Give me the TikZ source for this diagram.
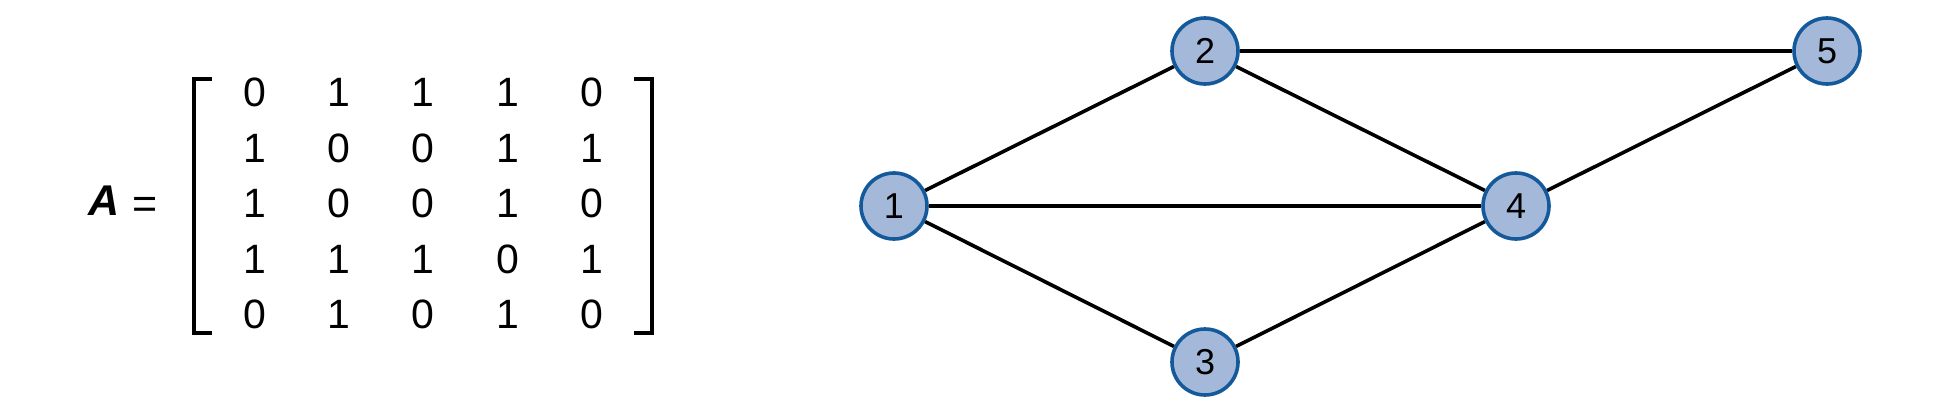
\documentclass[tikz,border=0pt]{standalone}
\usepackage{fontspec}
\setmainfont{Liberation Sans}
\definecolor{nodefill}{HTML}{A4B9DA}
\definecolor{nodeedge}{HTML}{14599A}
\begin{document}
\begin{tikzpicture}[x=1pt,y=-1pt,
  vert/.style={circle,draw=nodeedge,fill=nodefill,line width=3.6pt,minimum size=66pt,inner sep=0pt,font=\fontsize{36}{36}\selectfont},
  edge/.style={line width=3.6pt,black},
  entry/.style={inner sep=0pt,font=\fontsize{41}{41}\selectfont},
  brk/.style={line width=3.8pt,line cap=butt,line join=miter}]
\useasboundingbox (0,0) rectangle (1936,420);
% matrix label
\node[inner sep=0pt,anchor=base,font=\fontsize{43}{43}\selectfont\bfseries\itshape] (lblA) at (104,215) {A};
\node[inner sep=0pt,anchor=base,font=\fontsize{43}{43}\selectfont] (lbleq) at (145,218) {=};
% brackets
\coordinate (lbt) at (212,79);
\coordinate (lbb) at (212,333);
\coordinate (rbt) at (634,79);
\coordinate (rbb) at (634,333);
\draw[brk] (lbt) -- (194,79) -- (194,333) -- (lbb);
\draw[brk] (rbt) -- (652,79) -- (652,333) -- (rbb);
% entries
\foreach \r [count=\i from 0] in {{0,1,1,1,0},{1,0,0,1,1},{1,0,0,1,0},{1,1,1,0,1},{0,1,0,1,0}}{
  \foreach \v [count=\j from 0] in \r {
    \node[entry] (m\i\j) at (254.5+84.3*\j, 92.5+55.5*\i) {\v};
  }
}
% graph
\node[vert] (n1) at (894,206) {1};
\node[vert] (n2) at (1205,51) {2};
\node[vert] (n3) at (1205,362) {3};
\node[vert] (n4) at (1516,206) {4};
\node[vert] (n5) at (1827,51) {5};
\draw[edge] (n1) -- (n2);
\draw[edge] (n1) -- (n4);
\draw[edge] (n1) -- (n3);
\draw[edge] (n2) -- (n5);
\draw[edge] (n2) -- (n4);
\draw[edge] (n3) -- (n4);
\draw[edge] (n4) -- (n5);
\end{tikzpicture}
\end{document}
